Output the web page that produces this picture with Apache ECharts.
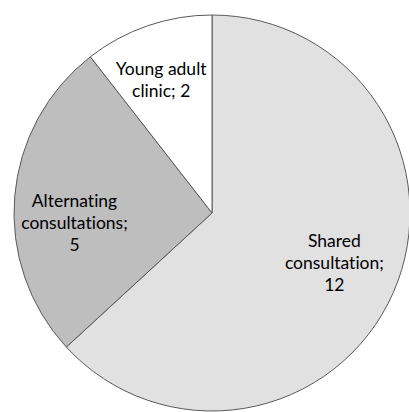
<!DOCTYPE html>
<html>
<head>
<meta charset="utf-8">
<script src="https://cdn.jsdelivr.net/npm/echarts@6/dist/echarts.min.js"></script>
<style>
  html, body { margin: 0; padding: 0; background: #fff; }
  #chart { width: 409px; height: 412px; font-variant-ligatures: none; }
  #chart text { font-variant-ligatures: none; }
</style>
</head>
<body>
<div id="chart"></div>
<script>
// Consultation models and number of clinics using each
const categories = ['Shared consultation', 'Alternating consultations', 'Young adult clinic'];
const counts = [12, 5, 2];
const sliceColors = ['#e1e1e1', '#bebebe', '#ffffff'];

const chart = echarts.init(document.getElementById('chart'), null, { renderer: 'svg' });

const slices = categories.map((name, i) => ({
  name,
  value: counts[i],
  itemStyle: { color: sliceColors[i] }
}));

// Label text of the form "Name; value", wrapped like the original
const labelText = p => {
  if (p.name === 'Young adult clinic') return 'Young adult\nclinic; ' + p.value;
  return p.name.split(' ').join('\n') + ';\n' + p.value;
};

// Per-slice nudges of the label block
const labelNudge = [[-4, -6], [0, 21], [-6, -3]];

chart.setOption({
  animation: false,
  series: [
    {
      type: 'pie',
      center: [212, 213],
      radius: 198,
      startAngle: 90,
      clockwise: true,
      silent: true,
      data: slices,
      itemStyle: { borderColor: '#595959', borderWidth: 1 },
      label: { show: false },
      labelLine: { show: false }
    },
    {
      // transparent ring that carries the labels further out than mid-radius
      type: 'pie',
      center: [212, 213],
      radius: [72, 198],
      startAngle: 90,
      clockwise: true,
      silent: true,
      data: slices.map((s, i) => ({
        name: s.name,
        value: s.value,
        itemStyle: { color: 'transparent' },
        label: { offset: labelNudge[i] }
      })),
      itemStyle: { borderWidth: 0 },
      label: {
        show: true,
        position: 'inside',
        formatter: labelText,
        fontFamily: 'Lato',
        fontSize: 17.5,
        lineHeight: 22,
        color: '#000',
        align: 'center'
      },
      labelLine: { show: false }
    }
  ]
});
</script>
</body>
</html>
